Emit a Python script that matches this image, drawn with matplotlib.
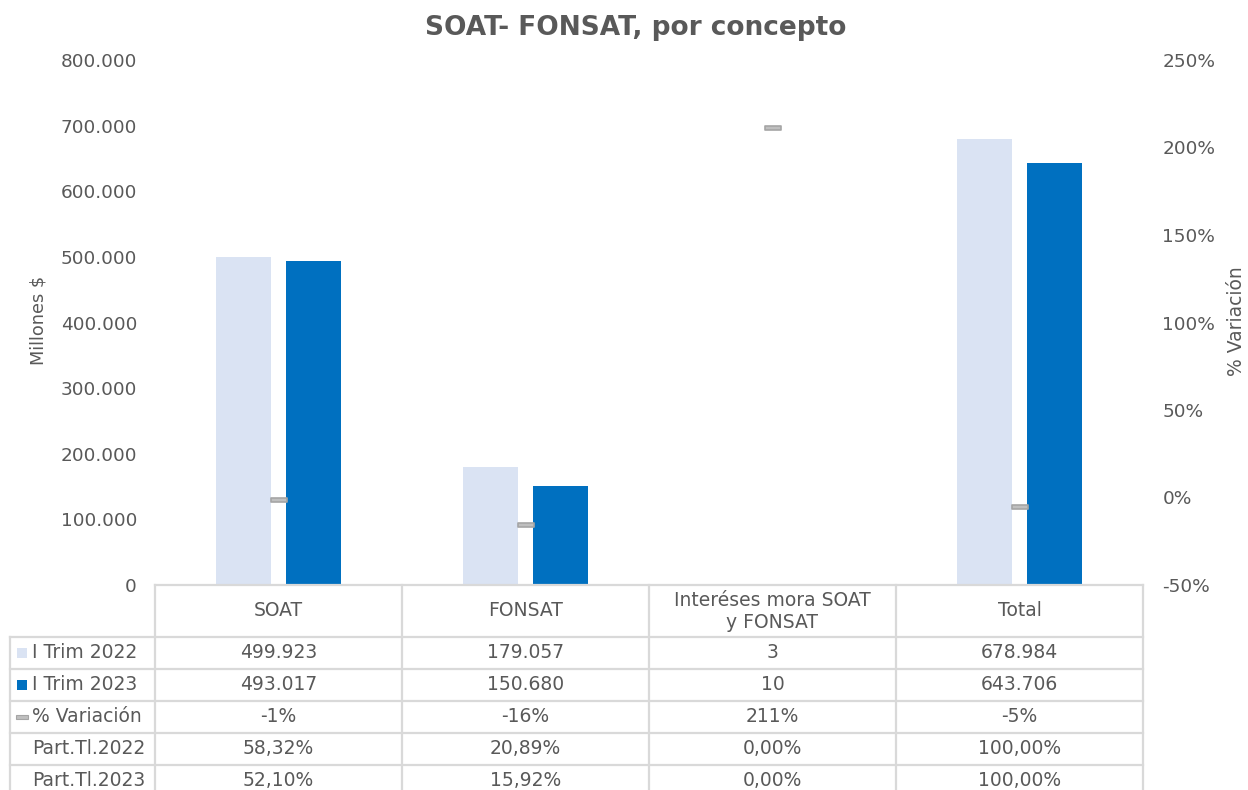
import matplotlib
matplotlib.use("Agg")
import matplotlib.pyplot as plt
from matplotlib.path import Path
from matplotlib.lines import Line2D
from matplotlib.patches import Rectangle

categories = ["SOAT", "FONSAT", "Interéses mora SOAT\ny FONSAT", "Total"]
trim_2022 = [499923, 179057, 3, 678984]
trim_2023 = [493017, 150680, 10, 643706]
variacion = [-0.014, -0.158, 2.11, -0.052]
variacion_lbl = ["-1%", "-16%", "211%", "-5%"]
part_2022 = ["58,32%", "20,89%", "0,00%", "100,00%"]
part_2023 = ["52,10%", "15,92%", "0,00%", "100,00%"]
row_labels = ["I Trim 2022", "I Trim 2023", "% Variación", "Part.Tl.2022", "Part.Tl.2023"]
left_ticks = [0, 100000, 200000, 300000, 400000, 500000, 600000, 700000, 800000]
right_ticks = [-0.5, 0, 0.5, 1.0, 1.5, 2.0, 2.5]

C_LIGHT = "#DAE3F3"
C_DARK = "#0070C0"
C_TEXT = "#595959"
C_GRID = "#D9D9D9"

W, H = 1248, 790
fig = plt.figure(figsize=(W / 100, H / 100), dpi=100)
plt.rcParams['font.family'] = ['DejaVu Sans']

def fx(x):
    return x / W

def fy(y):
    return 1 - y / H

ax_l, ax_r, ax_t, ax_b = 155, 1143, 60, 585
ax = fig.add_axes([fx(ax_l), fy(ax_b), (ax_r - ax_l) / W, (ax_b - ax_t) / H])
ax2 = ax.twinx()

def fmt_num(v):
    return f"{v:,}".replace(",", ".")

x = list(range(len(categories)))
bw = 0.225
off = 0.142
ax.bar([i - off for i in x], trim_2022, width=bw, color=C_LIGHT, zorder=2)
ax.bar([i + off for i in x], trim_2023, width=bw, color=C_DARK, zorder=2)
ax.set_xlim(-0.5, len(categories) - 0.5)
ax.set_ylim(0, 800000)
ax.set_yticks(left_ticks)
ax.set_yticklabels([fmt_num(t) for t in left_ticks])
ax.set_xticks([])
ax.tick_params(axis='y', length=0, pad=13, labelsize=13.3, labelcolor=C_TEXT)
for s in ax.spines.values():
    s.set_visible(False)

dash = Path([(-1, -0.3), (1, -0.3), (1, 0.3), (-1, 0.3), (-1, -0.3)],
            [Path.MOVETO, Path.LINETO, Path.LINETO, Path.LINETO, Path.CLOSEPOLY])
ax2.plot(x, variacion, linestyle='none', marker=dash, markersize=11,
         markerfacecolor="#BFBFBF", markeredgecolor="#A5A5A5", markeredgewidth=1.2, zorder=3)
ax2.set_ylim(-0.5, 2.5)
ax2.set_yticks(right_ticks)
ax2.set_yticklabels([f"{round(t*100)}%" for t in right_ticks])
ax2.tick_params(axis='y', length=0, pad=14, labelsize=13.3, labelcolor=C_TEXT)
for s in ax2.spines.values():
    s.set_visible(False)

fig.text(fx(39), fy(320), "Millones $", rotation=90, ha='center', va='center',
         fontsize=12.8, color=C_TEXT)
fig.text(fx(1237), fy(321), "% Variación", rotation=90, ha='center', va='center',
         fontsize=13.5, color=C_TEXT)
fig.text(fx(636), fy(28), "SOAT- FONSAT, por concepto", ha='center', va='center',
         fontsize=19, fontweight='bold', color=C_TEXT)

# table
col_x = [155, 402, 649, 896, 1143]
row_y = [585, 637, 669, 701, 733, 765, 790]
lw = 1.6

def hline(y, x0, x1):
    fig.add_artist(Line2D([fx(x0), fx(x1)], [fy(y), fy(y)], color=C_GRID, lw=lw))

def vline(x0, y0, y1):
    fig.add_artist(Line2D([fx(x0), fx(x0)], [fy(y0), fy(y1)], color=C_GRID, lw=lw))

hline(585, 155, 1143)
for y in row_y[1:-1]:
    hline(y, 10, 1143)
vline(10, 637, 790)
for cx in col_x:
    vline(cx, 585, 790)

for j, cat in enumerate(categories):
    cxm = (col_x[j] + col_x[j + 1]) / 2
    fig.text(fx(cxm), fy(611), cat, ha='center', va='center', fontsize=13.5,
             color=C_TEXT, linespacing=1.2)

rows = [
    [fmt_num(v) for v in trim_2022],
    [fmt_num(v) for v in trim_2023],
    variacion_lbl,
    part_2022,
    part_2023,
]
row_centers = [653, 685, 717, 749, 781]
for r, (lbl, vals, yc) in enumerate(zip(row_labels, rows, row_centers)):
    fig.text(fx(32), fy(yc), lbl, ha='left', va='center', fontsize=13.5, color=C_TEXT)
    for j, v in enumerate(vals):
        cxm = (col_x[j] + col_x[j + 1]) / 2
        fig.text(fx(cxm), fy(yc), v, ha='center', va='center', fontsize=13.5, color=C_TEXT)

# legend keys
fig.add_artist(Rectangle((fx(17), fy(658)), 10 / W, 10 / H, transform=fig.transFigure,
                         facecolor=C_LIGHT, edgecolor='none'))
fig.add_artist(Rectangle((fx(17), fy(690)), 10 / W, 10 / H, transform=fig.transFigure,
                         facecolor=C_DARK, edgecolor='none'))
fig.add_artist(Rectangle((fx(16), fy(719)), 12 / W, 4 / H, transform=fig.transFigure,
                         facecolor="#BFBFBF", edgecolor="#A5A5A5", lw=0.8))

fig.savefig("out.png", dpi=100)
